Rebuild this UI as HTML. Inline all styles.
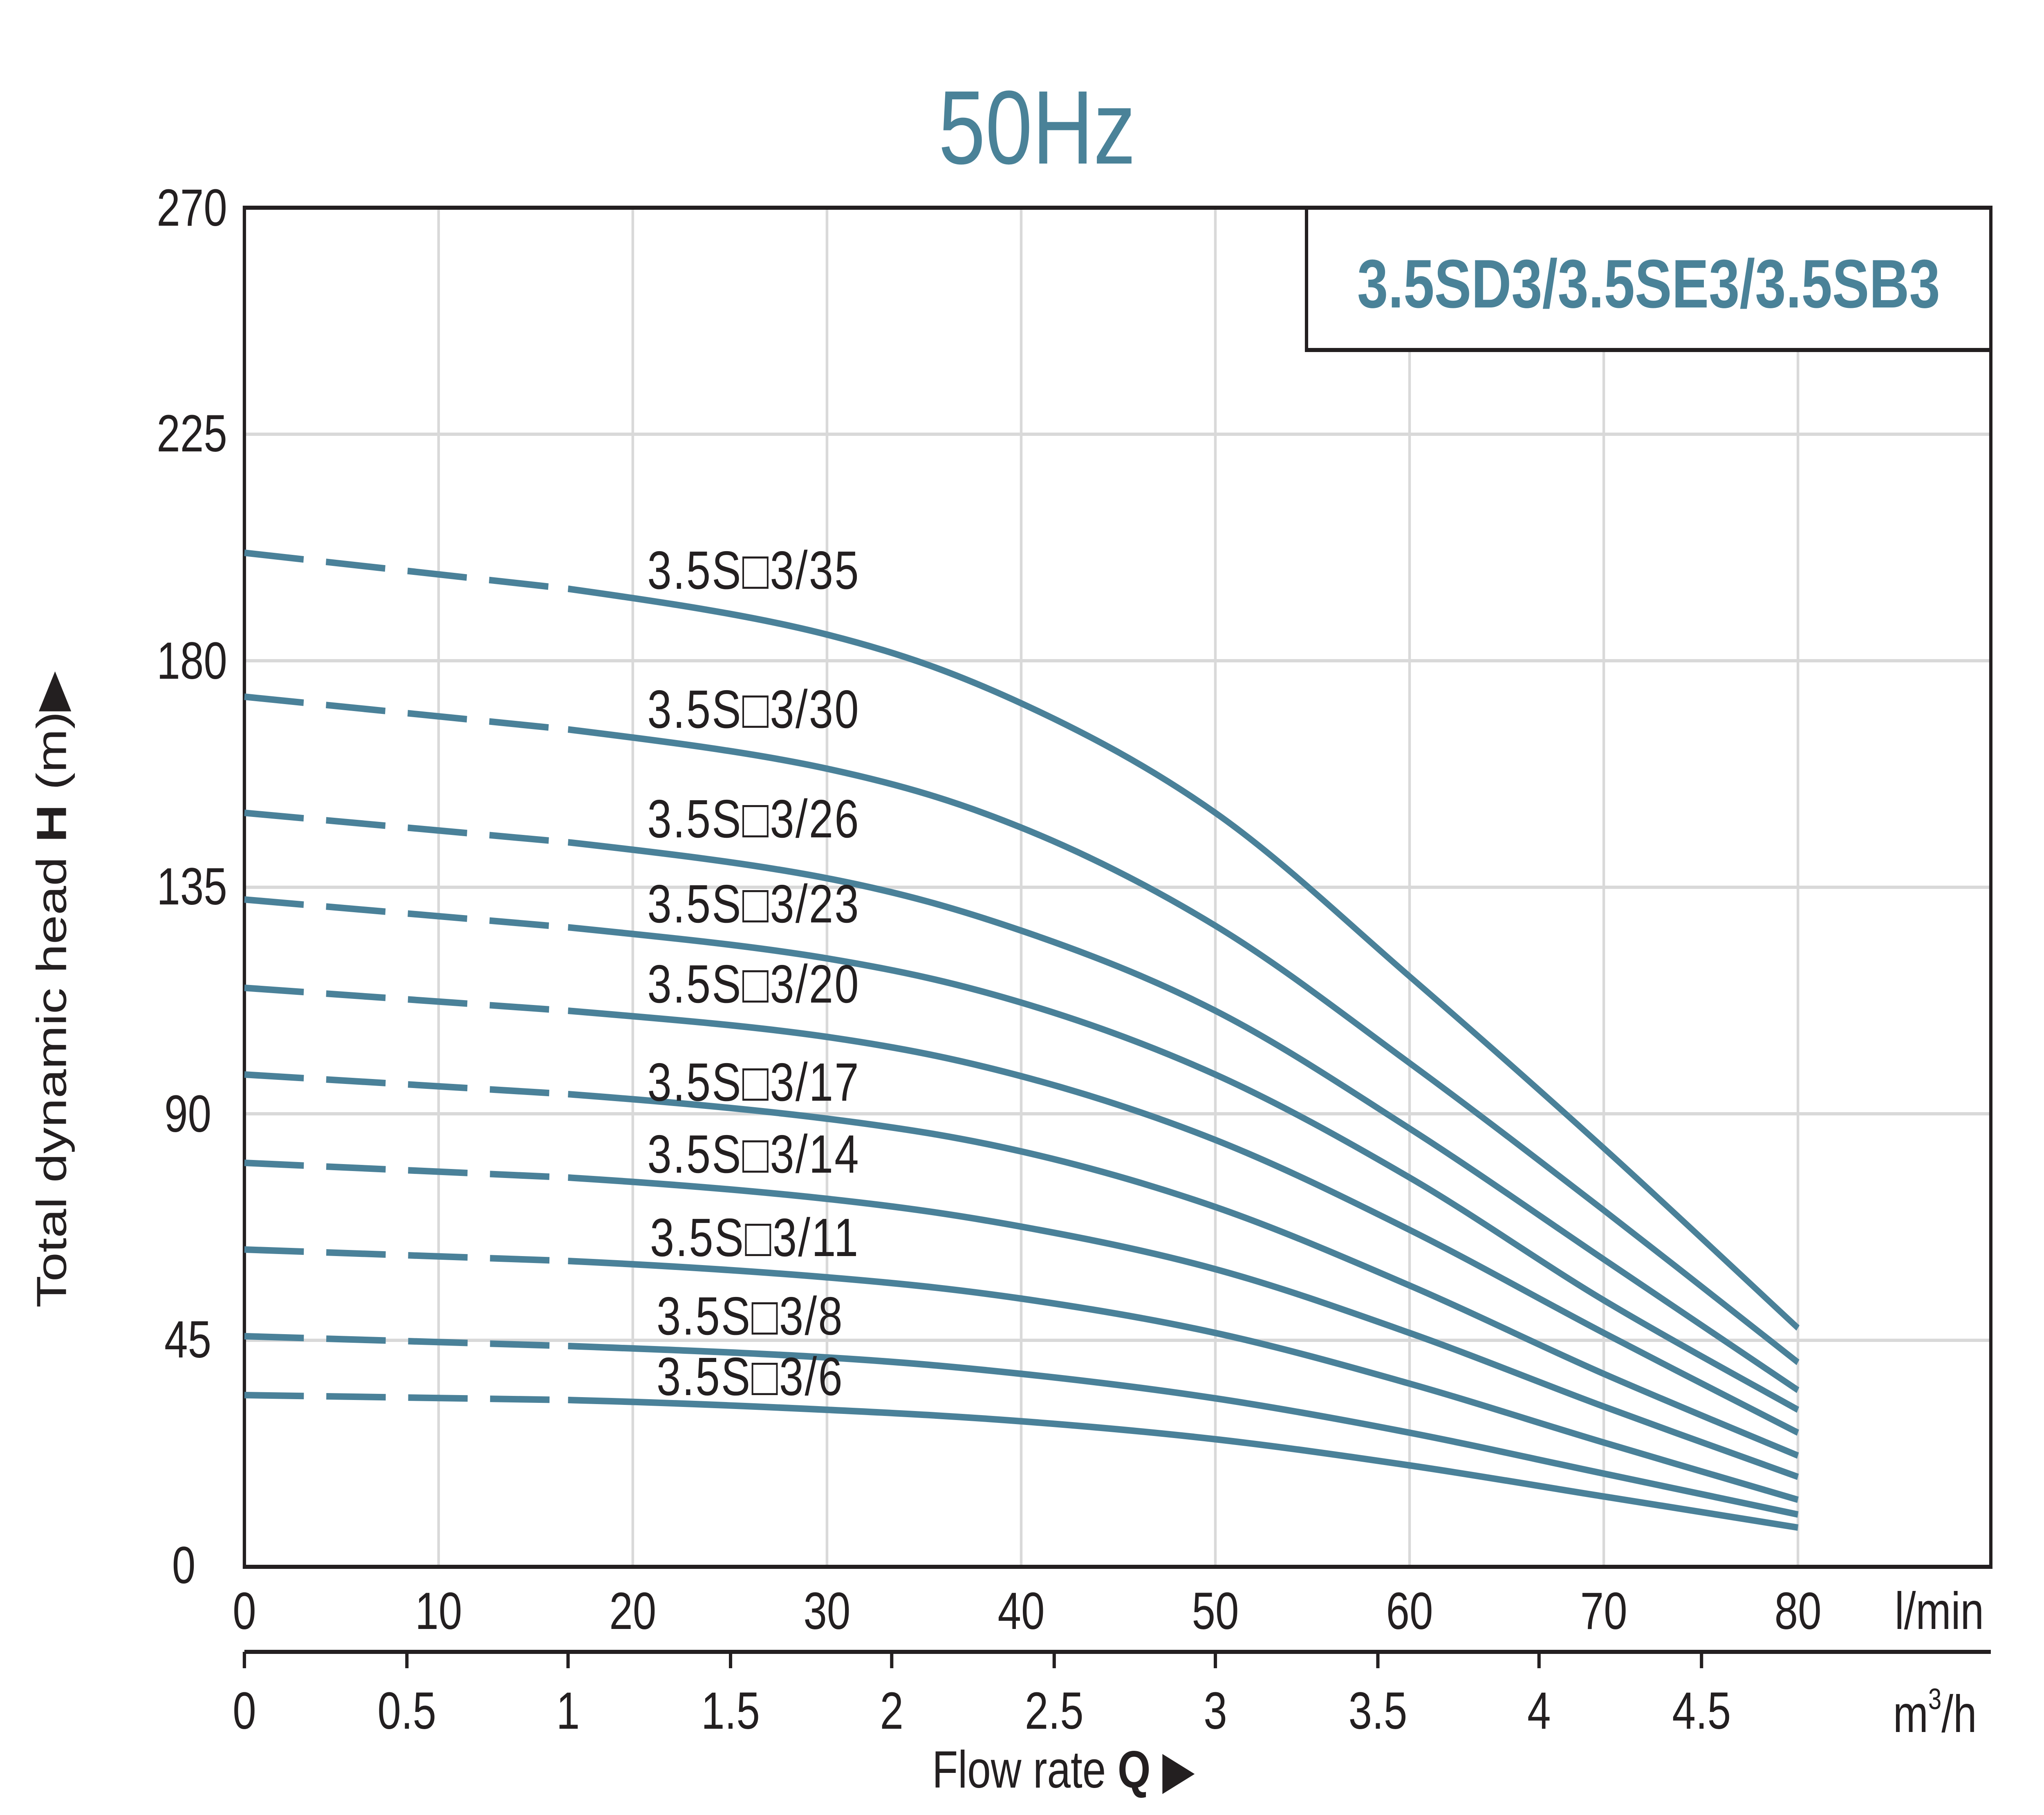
<!DOCTYPE html>
<html><head><meta charset="utf-8">
<style>
html,body{margin:0;padding:0;background:#fff;width:100%;height:100%;overflow:hidden;}
svg{position:absolute;left:0;top:0;display:block;width:100vw;height:100vh;}
text{font-family:"Liberation Sans",sans-serif;}
</style></head>
<body>
<svg viewBox="0 0 1547.25 1109.75" preserveAspectRatio="none" xmlns="http://www.w3.org/2000/svg">
<rect width="1547.25" height="1109.75" fill="#fff"/>
<g stroke="#d9d9d9" stroke-width="2">
<line x1="185" y1="265.5" x2="1507" y2="265.5"/>
<line x1="185" y1="404" x2="1507" y2="404"/>
<line x1="185" y1="542.5" x2="1507" y2="542.5"/>
<line x1="185" y1="681" x2="1507" y2="681"/>
<line x1="185" y1="819.5" x2="1507" y2="819.5"/>
<line x1="332" y1="127" x2="332" y2="958"/>
<line x1="479" y1="127" x2="479" y2="958"/>
<line x1="626" y1="127" x2="626" y2="958"/>
<line x1="773" y1="127" x2="773" y2="958"/>
<line x1="920" y1="127" x2="920" y2="958"/>
<line x1="1067" y1="214" x2="1067" y2="958"/>
<line x1="1214" y1="214" x2="1214" y2="958"/>
<line x1="1361" y1="214" x2="1361" y2="958"/>
</g>
<rect x="185" y="127" width="1322" height="831" fill="none" stroke="#231f20" stroke-width="2.5"/>
<rect x="989" y="127" width="518" height="87" fill="#fff" stroke="#231f20" stroke-width="2.5"/>
<text x="1248" y="188" font-size="42" font-weight="bold" fill="#4a8298" text-anchor="middle">3.5SD3/3.5SE3/3.5SB3</text>
<text x="785" y="100" font-size="64" fill="#4a8298" text-anchor="middle">50Hz</text>
<g font-size="32" fill="#231f20" text-anchor="end">
<text x="172" y="138">270</text><text x="172" y="276">225</text><text x="172" y="415">180</text>
<text x="172" y="553">135</text><text x="160" y="692">90</text><text x="160" y="830">45</text><text x="148" y="968">0</text>
</g>
<g font-size="32" fill="#231f20" text-anchor="middle">
<text x="185" y="996">0</text><text x="332" y="996">10</text><text x="479" y="996">20</text><text x="626" y="996">30</text>
<text x="773" y="996">40</text><text x="920" y="996">50</text><text x="1067" y="996">60</text><text x="1214" y="996">70</text>
<text x="1361" y="996">80</text><text x="1468" y="996">l/min</text>
<text x="185" y="1057">0</text><text x="308" y="1057">0.5</text><text x="430" y="1057">1</text><text x="553" y="1057">1.5</text>
<text x="675" y="1057">2</text><text x="798" y="1057">2.5</text><text x="920" y="1057">3</text><text x="1043" y="1057">3.5</text>
<text x="1165" y="1057">4</text><text x="1288" y="1057">4.5</text>
</g>
<text x="1433" y="1059" font-size="32" fill="#231f20">m<tspan font-size="18" dy="-14">3</tspan><tspan dy="14">/h</tspan></text>
<line x1="185" y1="1010" x2="1507" y2="1010" stroke="#231f20" stroke-width="2.5"/>
<g stroke="#231f20" stroke-width="2.5">
<line x1="185" y1="1010" x2="185" y2="1020"/><line x1="308" y1="1010" x2="308" y2="1020"/><line x1="430" y1="1010" x2="430" y2="1020"/>
<line x1="553" y1="1010" x2="553" y2="1020"/><line x1="675" y1="1010" x2="675" y2="1020"/><line x1="798" y1="1010" x2="798" y2="1020"/>
<line x1="920" y1="1010" x2="920" y2="1020"/><line x1="1043" y1="1010" x2="1043" y2="1020"/><line x1="1165" y1="1010" x2="1165" y2="1020"/>
<line x1="1288" y1="1010" x2="1288" y2="1020"/>
</g>
<text x="805" y="1093" font-size="32" fill="#231f20" text-anchor="middle">Flow rate <tspan font-weight="bold">Q</tspan> ▶</text>
<text transform="translate(50,605) rotate(-90)" font-size="32" fill="#231f20" text-anchor="middle">Total dynamic head <tspan font-weight="bold">H</tspan> (m)▶</text>
<g fill="none" stroke="#4a8199" stroke-width="4">
<g stroke-dasharray="45 17">
<path d="M185 338 L430 360"/><path d="M185 426 L430 446"/><path d="M185 497 L430 515"/><path d="M185 550 L430 567"/>
<path d="M185 604 L430 618"/><path d="M185 657 L430 669"/><path d="M185 711 L430 720"/><path d="M185 764 L430 771"/>
<path d="M185 817 L430 823"/><path d="M185 853 L430 856"/>
</g>
<path d="M430 360 C503.5 368.3 568.8 376.3 626 388 C683.2 399.7 724 411.8 773 430 C822 448.2 871 469.2 920 497 C969 524.8 1018 562.8 1067 597 C1116 631.2 1165 666.2 1214 702 C1263 737.8 1336.5 793.7 1361 812"/>
<path d="M430 446 C503.5 453.3 568.8 460 626 470 C683.2 480 724 490 773 506 C822 522 871 542 920 566 C969 590 1018 621 1067 650 C1116 679 1165 709.5 1214 740 C1263 770.5 1336.5 817.5 1361 833"/>
<path d="M430 515 C503.5 521.7 568.8 528 626 537 C683.2 546 724 555.5 773 569 C822 582.5 871 597.8 920 618 C969 638.2 1018 664.7 1067 690 C1116 715.3 1165 743.3 1214 770 C1263 796.7 1336.5 836.7 1361 850"/>
<path d="M430 567 C503.5 573 568.8 578.3 626 586 C683.2 593.7 724 601.2 773 613 C822 624.8 871 639.2 920 657 C969 674.8 1018 697 1067 720 C1116 743 1165 771.3 1214 795 C1263 818.7 1336.5 850.8 1361 862"/>
<path d="M430 618 C503.5 623 568.8 627.3 626 634 C683.2 640.7 724 647.5 773 658 C822 668.5 871 681.3 920 697 C969 712.7 1018 732.3 1067 752 C1116 771.7 1165 794.3 1214 815 C1263 835.7 1336.5 865.8 1361 876"/>
<path d="M430 669 C503.5 673.5 568.8 678.2 626 684 C683.2 689.8 724 695 773 704 C822 713 871 724.3 920 738 C969 751.7 1018 769 1067 786 C1116 803 1165 822.7 1214 840 C1263 857.3 1336.5 881.7 1361 890"/>
<path d="M430 720 C503.5 723.7 568.8 728 626 733 C683.2 738 724 742.8 773 750 C822 757.2 871 765.2 920 776 C969 786.8 1018 801 1067 815 C1116 829 1165 845.3 1214 860 C1263 874.7 1336.5 895.8 1361 903"/>
<path d="M430 771 C503.5 773.8 568.8 777.2 626 781 C683.2 784.8 724 788.3 773 794 C822 799.7 871 806.3 920 815 C969 823.7 1018 834.8 1067 846 C1116 857.2 1165 870.2 1214 882 C1263 893.8 1336.5 911.2 1361 917"/>
<path d="M430 823 C503.5 825.2 568.8 827.2 626 830 C683.2 832.8 724 835.8 773 840 C822 844.2 871 849 920 855 C969 861 1018 868.3 1067 876 C1116 883.7 1165 892.7 1214 901 C1263 909.3 1336.5 921.8 1361 926"/>
<path d="M430 856 C503.5 857.5 568.8 859.8 626 862 C683.2 864.2 724 866 773 869 C822 872 871 875.5 920 880 C969 884.5 1018 890.2 1067 896 C1116 901.8 1165 908.7 1214 915 C1263 921.3 1336.5 930.8 1361 934"/>
</g>
<g font-size="33" fill="#231f20" letter-spacing="1">
<text x="490" y="360">3.5S□3/35</text><text x="490" y="445">3.5S□3/30</text><text x="490" y="512">3.5S□3/26</text>
<text x="490" y="564">3.5S□3/23</text><text x="490" y="613">3.5S□3/20</text><text x="490" y="673">3.5S□3/17</text>
<text x="490" y="717">3.5S□3/14</text><text x="492" y="768">3.5S□3/11</text><text x="497" y="816">3.5S□3/8</text>
<text x="497" y="853">3.5S□3/6</text>
</g>
</svg>
</body></html>
